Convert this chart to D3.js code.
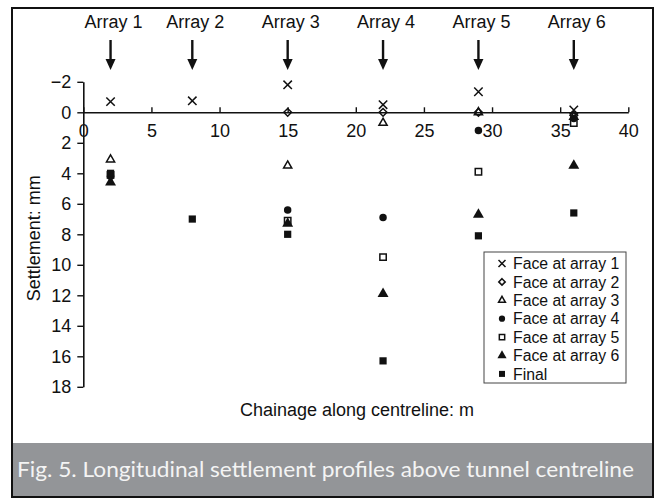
<!DOCTYPE html>
<html>
<head>
<meta charset="utf-8">
<script src="https://cdn.jsdelivr.net/npm/d3@7"></script>
<style>
body { margin: 0; background: #fff; }
text { font-family: "Liberation Sans", Arial, sans-serif; fill: #111; }
</style>
</head>
<body>
<svg id="chart" width="658" height="500"></svg>
<script>
var array_labels = ["Array 1", "Array 2", "Array 3", "Array 4", "Array 5", "Array 6"];
var array_chainage = [2, 8, 15, 22, 29, 36];

var series_names = ["Face at array 1", "Face at array 2", "Face at array 3",
    "Face at array 4", "Face at array 5", "Face at array 6", "Final"];

// [chainage m, settlement mm]
var face_1 = [[2, -0.7], [8, -0.75], [15, -1.8], [22, -0.5], [29, -1.35], [36, -0.15]];
var face_2 = [[15, 0], [22, 0], [29, 0], [36, 0.2]];
var face_3 = [[2, 3.1], [15, 3.5], [22, 0.7], [29, 0], [36, 0.3]];
var face_4 = [[2, 4.2], [15, 6.4], [22, 6.9], [29, 1.2], [36, 0.4]];
var face_5 = [[2, 4.1], [15, 7.1], [22, 9.5], [29, 3.9], [36, 0.7]];
var face_6 = [[2, 4.6], [15, 7.3], [22, 11.9], [29, 6.7], [36, 3.5]];
var final_ = [[2, 4.0], [8, 7.0], [15, 8.0], [22, 16.3], [29, 8.1], [36, 6.6]];

var x_ticks = [0, 5, 10, 15, 20, 25, 30, 35, 40];
var y_ticks = [-2, 0, 2, 4, 6, 8, 10, 12, 14, 16, 18];

var all_series = [face_1, face_2, face_3, face_4, face_5, face_6, final_];

var symbols = [
    {type: d3.symbolTimes || d3.symbolX, size: 48, fill: false},
    {type: d3.symbolDiamond2, size: 38, fill: false},
    {type: d3.symbolTriangle2, size: 48, fill: false},
    {type: d3.symbolCircle, size: 44, fill: true},
    {type: d3.symbolSquare2, size: 52, fill: false},
    {type: d3.symbolTriangle, size: 52, fill: true},
    {type: d3.symbolSquare, size: 52, fill: true}
];

var chart = d3.select("#chart");

// frame + caption bar
chart.append("rect")
    .attr("x", 12).attr("y", 8).attr("width", 641).attr("height", 489)
    .attr("fill", "white").attr("stroke", "#111").attr("stroke-width", 2);
chart.append("rect")
    .attr("x", 13).attr("y", 443).attr("width", 639).attr("height", 53)
    .attr("fill", "#939598");
chart.append("text")
    .attr("x", 17).attr("y", 477)
    .style("font-family", "Lato, 'Open Sans', sans-serif")
    .style("font-size", "21px")
    .style("fill", "#f4f4f4")
    .attr("textLength", 617)
    .attr("lengthAdjust", "spacingAndGlyphs")
    .text("Fig. 5. Longitudinal settlement profiles above tunnel centreline");

var xs = d3.scaleLinear().domain([0, 40]).range([83.3, 628.3]);
var ys = d3.scaleLinear().domain([-2, 18]).range([81.8, 386.8]);

// y axis
var y_axis = chart.append("g")
    .attr("transform", "translate(" + xs(0) + ",0)")
    .call(d3.axisLeft(ys).tickValues(y_ticks).tickSize(6).tickSizeOuter(0).tickPadding(6));
y_axis.selectAll("text").style("font-size", "18px").style("font-family", "'Liberation Sans', Arial, sans-serif");

// x axis, crossing at y = 0, ticks pointing up
var x_axis = chart.append("g")
    .attr("transform", "translate(0," + ys(0) + ")")
    .call(d3.axisBottom(xs).tickValues(x_ticks).tickSize(-5).tickSizeOuter(0).tickPadding(12));
x_axis.selectAll("text").style("font-size", "18px").style("font-family", "'Liberation Sans', Arial, sans-serif");

chart.selectAll(".domain").attr("stroke", "#111").attr("stroke-width", 1.6);
chart.selectAll(".tick line").attr("stroke", "#111").attr("stroke-width", 1.4);

chart.append("text")
    .attr("transform", "translate(40," + ((ys(-2) + ys(18)) / 2 + 4) + ") rotate(-90)")
    .style("text-anchor", "middle")
    .style("font-size", "18px")
    .text("Settlement: mm");

chart.append("text")
    .attr("x", 357).attr("y", 416)
    .style("text-anchor", "middle")
    .style("font-size", "18px")
    .text("Chainage along centreline: m");

// array labels and arrows
var arrow_top = 40, arrow_tip = 70;
var arrows = chart.append("g");
arrows.selectAll("text")
    .data(array_labels)
    .enter()
    .append("text")
        .attr("x", (d, i) => xs(array_chainage[i]) + 3)
        .attr("y", 28)
        .style("text-anchor", "middle")
        .style("font-size", "18px")
        .text(d => d);
arrows.selectAll("line")
    .data(array_chainage)
    .enter()
    .append("line")
        .attr("x1", d => xs(d)).attr("x2", d => xs(d))
        .attr("y1", arrow_top).attr("y2", arrow_tip - 8)
        .attr("stroke", "#111").attr("stroke-width", 2.4);
arrows.selectAll("path")
    .data(array_chainage)
    .enter()
    .append("path")
        .attr("d", d => "M" + (xs(d) - 5) + "," + (arrow_tip - 11) + "L" + (xs(d) + 5) + "," + (arrow_tip - 11) + "L" + xs(d) + "," + arrow_tip + "Z")
        .attr("fill", "#111");

// markers
function draw_symbol(g, s, scale) {
    return g.append("path")
        .attr("d", d3.symbol().type(s.type).size(s.size * scale))
        .attr("fill", s.fill ? "#111" : "none")
        .attr("stroke", s.fill ? "none" : "#111")
        .attr("stroke-width", s.fill ? 0 : 1.5);
}

var marks = chart.append("g");
all_series.forEach(function(series, i) {
    series.forEach(function(p) {
        var g = marks.append("g")
            .attr("transform", "translate(" + xs(p[0]) + "," + ys(p[1]) + ")");
        draw_symbol(g, symbols[i], 1);
    });
});

// legend
var legend = chart.append("g");
legend.append("rect")
    .attr("x", 484).attr("y", 252).attr("width", 142).attr("height", 131)
    .attr("fill", "white").attr("stroke", "#444").attr("stroke-width", 1);
series_names.forEach(function(name, i) {
    var row_y = 263.5 + i * 18.4;
    var g = legend.append("g").attr("transform", "translate(502," + row_y + ")");
    draw_symbol(g, symbols[i], 0.7);
    legend.append("text")
        .attr("x", 513).attr("y", row_y)
        .attr("dy", "0.36em")
        .style("font-size", "15.8px")
        .text(name);
});
</script>
</body>
</html>
